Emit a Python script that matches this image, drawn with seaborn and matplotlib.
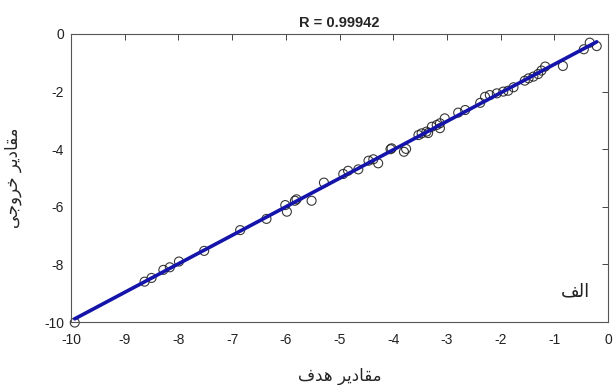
import numpy as np
import pandas as pd
import matplotlib
matplotlib.use("Agg")
import matplotlib.pyplot as plt
import seaborn as sns
from matplotlib import font_manager
from matplotlib.ft2font import FT2Font

# ---------------- data ----------------
targets = [-9.93, -8.63, -8.50, -8.28, -8.16, -7.99, -7.52, -6.85, -6.36,
           -6.01, -5.98, -5.83, -5.80, -5.52, -5.29, -4.93, -4.84, -4.65,
           -4.46, -4.37, -4.28, -4.05, -4.03, -3.80, -3.76, -3.53, -3.47,
           -3.38, -3.35, -3.28, -3.19, -3.13, -3.13, -3.04, -2.79, -2.66,
           -2.38, -2.29, -2.20, -2.07, -1.95, -1.86, -1.76, -1.55, -1.48,
           -1.39, -1.30, -1.24, -1.17, -0.84, -0.45, -0.34, -0.21]
outputs = [-10.02, -8.60, -8.47, -8.19, -8.10, -7.90, -7.53, -6.81, -6.42,
           -5.94, -6.17, -5.79, -5.74, -5.79, -5.16, -4.86, -4.75, -4.70,
           -4.40, -4.35, -4.49, -4.00, -3.97, -4.09, -3.99, -3.51, -3.45,
           -3.39, -3.44, -3.22, -3.16, -3.10, -3.27, -2.93, -2.73, -2.64,
           -2.39, -2.18, -2.12, -2.06, -2.00, -1.97, -1.85, -1.62, -1.54,
           -1.48, -1.39, -1.27, -1.13, -1.11, -0.53, -0.30, -0.42]
x_ticks = [-10, -9, -8, -7, -6, -5, -4, -3, -2, -1, 0]
y_ticks = [-10, -8, -6, -4, -2, 0]
title_text = "R = 0.99942"
x_label = "مقادیر هدف"
y_label = "مقادیر خروجی"
panel_label = "الف"

# ------------- simple Persian shaping (matplotlib has no bidi/shaping) -------------
dv_path = font_manager.findfont("DejaVu Sans")
cmap = FT2Font(dv_path).get_charmap()
has_farsi_yeh = all(cp in cmap for cp in (0xFBFC, 0xFBFD, 0xFBFE, 0xFBFF))
if has_farsi_yeh:
    yeh_forms = ("\uFBFC", "\uFBFD", "\uFBFE", "\uFBFF")
else:
    yeh_forms = ("\uFEEF", "\uFEF0", "\uFEF3", "\uFEF4")

FORMS = {
    "ا": ("\uFE8D", "\uFE8E", None, None),
    "د": ("\uFEA9", "\uFEAA", None, None),
    "ر": ("\uFEAD", "\uFEAE", None, None),
    "و": ("\uFEED", "\uFEEE", None, None),
    "ل": ("\uFEDD", "\uFEDE", "\uFEDF", "\uFEE0"),
    "ف": ("\uFED1", "\uFED2", "\uFED3", "\uFED4"),
    "م": ("\uFEE1", "\uFEE2", "\uFEE3", "\uFEE4"),
    "ق": ("\uFED5", "\uFED6", "\uFED7", "\uFED8"),
    "ه": ("\uFEE9", "\uFEEA", "\uFEEB", "\uFEEC"),
    "خ": ("\uFEA5", "\uFEA6", "\uFEA7", "\uFEA8"),
    "ج": ("\uFE9D", "\uFE9E", "\uFE9F", "\uFEA0"),
    "ی": yeh_forms,
}


def shape(text):
    out = []
    for i, ch in enumerate(text):
        if ch not in FORMS:
            out.append(ch)
            continue
        prev = text[i - 1] if i > 0 else None
        nxt = text[i + 1] if i + 1 < len(text) else None
        jp = prev in FORMS and FORMS[prev][2] is not None
        jn = nxt in FORMS and FORMS[ch][2] is not None
        iso, fin, ini, med = FORMS[ch]
        if jp and jn:
            out.append(med)
        elif jp:
            out.append(fin)
        elif jn:
            out.append(ini)
        else:
            out.append(iso)
    return "".join(reversed(out))


# ---------------- plot ----------------
sns.set_style("white")
plt.rcParams["font.family"] = ["Liberation Sans", "DejaVu Sans"]

df = pd.DataFrame({"target": targets, "output": outputs})

fig = plt.figure(figsize=(6.16, 3.85), dpi=100)
ax = fig.add_axes([71 / 616, 1 - 322 / 385, (608 - 71) / 616, (322 - 34) / 385])

sns.regplot(data=df, x="target", y="output", ax=ax, ci=None, truncate=True,
            scatter_kws=dict(facecolors="none", edgecolors="#222222", s=42,
                             linewidths=0.8, alpha=0.9, marker="o",
                             clip_on=False, zorder=2),
            line_kws=dict(color="#1414aa", lw=2.6, zorder=3))

ax.set_xlim(-10, 0)
ax.set_ylim(-10, 0)
ax.set_xticks(x_ticks)
ax.set_yticks(y_ticks)
ax.set_xticklabels([str(t) for t in x_ticks])
ax.set_yticklabels([str(t) for t in y_ticks])
ax.tick_params(direction="in", top=True, right=True, length=4, width=0.7,
               colors="#444444", labelsize=10)
ax.tick_params(axis="x", pad=8)
ax.tick_params(axis="y", pad=5)
for lab in ax.get_xticklabels() + ax.get_yticklabels():
    lab.set_color("#222222")
for sp in ax.spines.values():
    sp.set_color("#555555")
    sp.set_linewidth(0.8)

ax.set_title(title_text, fontsize=10.5, fontweight="bold", pad=5,
             family=["Liberation Sans", "DejaVu Sans"])
ax.set_xlabel(shape(x_label), fontsize=12, family=["DejaVu Sans"], labelpad=14)
ax.set_ylabel(shape(y_label), fontsize=12, family=["DejaVu Sans"], labelpad=16)
ax.text(-0.6, -8.95, shape(panel_label), fontsize=13, family=["DejaVu Sans"],
        ha="center", va="center", color="#222222")

fig.savefig("out.png", dpi=100)
